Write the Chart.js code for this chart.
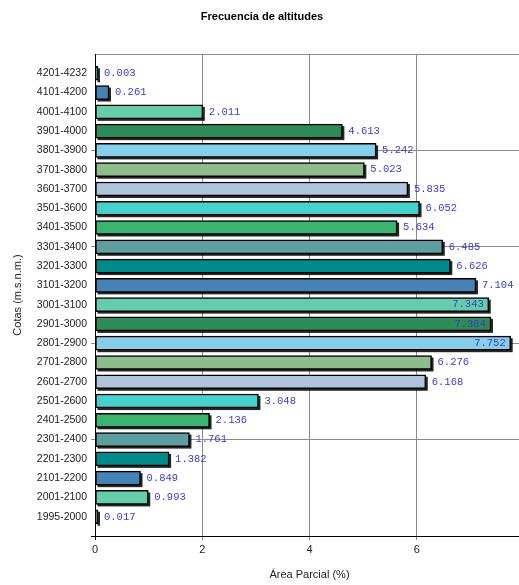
<!DOCTYPE html>
<html>
<head>
<meta charset="utf-8">
<script src="https://cdn.jsdelivr.net/npm/chart.js@4/dist/chart.umd.min.js"></script>
<style>
  html, body { margin: 0; padding: 0; background: #fff; overflow: hidden; }
  #wrap { width: 538px; height: 585px; }
</style>
</head>
<body>
<div id="wrap"><canvas id="altChart"></canvas></div>
<script>
// altitude bands, top to bottom as drawn
var cotas = [
  "4201-4232", "4101-4200", "4001-4100", "3901-4000", "3801-3900", "3701-3800",
  "3601-3700", "3501-3600", "3401-3500", "3301-3400", "3201-3300", "3101-3200",
  "3001-3100", "2901-3000", "2801-2900", "2701-2800", "2601-2700", "2501-2600",
  "2401-2500", "2301-2400", "2201-2300", "2101-2200", "2001-2100", "1995-2000"
];
var areaParcial = [
  0.003, 0.261, 2.011, 4.613, 5.242, 5.023,
  5.835, 6.052, 5.634, 6.485, 6.626, 7.104,
  7.343, 7.384, 7.752, 6.276, 6.168, 3.048,
  2.136, 1.761, 1.382, 0.849, 0.993, 0.017
];
var xTicks = [0, 2, 4, 6, 8];

// palette cycles from the bottom bar upwards
var palette = ['#2E8B57', '#66CDAA', '#4682B4', '#008B8B', '#5F9EA0',
               '#3CB371', '#48D1CC', '#B0C4DE', '#8FBC8F', '#87CEEB'];

// blank slot above and below so the axis runs one band past the bars
var labels = [''].concat(cotas, ['']);
var values = [null].concat(areaParcial, [null]);
var colors = labels.map(function (l, i) {
  var k = cotas.length - i; // index counted from the bottom bar
  return palette[((k % 10) + 10) % 10];
});

var barShadow = {
  id: 'barShadow',
  beforeDatasetsDraw: function (chart) {
    var ctx = chart.ctx;
    var meta = chart.getDatasetMeta(0);
    ctx.save();
    ctx.fillStyle = 'rgba(0,0,0,0.85)';
    meta.data.forEach(function (bar, i) {
      if (values[i] === null) return;
      var p = bar.getProps(['x', 'y', 'base', 'height'], true);
      ctx.fillRect(p.base + 2, p.y - p.height / 2 + 2, p.x - p.base, p.height);
    });
    ctx.restore();
  }
};

var valueLabels = {
  id: 'valueLabels',
  afterDatasetsDraw: function (chart) {
    var ctx = chart.ctx;
    var meta = chart.getDatasetMeta(0);
    var right = chart.chartArea.right;
    ctx.save();
    ctx.font = '10.5px "Liberation Mono", "DejaVu Sans Mono", monospace';
    ctx.fillStyle = '#3b3bc8';
    ctx.textBaseline = 'middle';
    meta.data.forEach(function (bar, i) {
      if (values[i] === null) return;
      var txt = values[i].toFixed(3);
      var w = ctx.measureText(txt).width;
      if (bar.x + 6 + w > right) {
        ctx.textAlign = 'right';
        ctx.fillText(txt, bar.x - 5, bar.y);
      } else {
        ctx.textAlign = 'left';
        ctx.fillText(txt, bar.x + 6, bar.y);
      }
    });
    ctx.restore();
  }
};

var ctx = document.getElementById('altChart').getContext('2d');
var altChart = new Chart(ctx, {
  type: 'bar',
  data: {
    labels: labels,
    datasets: [{
      label: 'Área Parcial',
      data: values,
      backgroundColor: colors,
      borderColor: '#000',
      borderWidth: 1.5,
      borderSkipped: false,
      barThickness: 14,
      minBarLength: 3
    }]
  },
  options: {
    indexAxis: 'y',
    responsive: true,
    maintainAspectRatio: false,
    animation: false,
    layout: { padding: { left: 0, right: 14, top: 0, bottom: 0 } },
    plugins: {
      legend: { display: false },
      tooltip: { enabled: false },
      title: {
        display: true,
        text: 'Frecuencia de altitudes',
        color: '#000',
        font: { family: '"Liberation Sans", Arial, sans-serif', size: 11, weight: 'bold' },
        padding: { top: 10, bottom: 30.8 }
      }
    },
    scales: {
      x: {
        min: 0,
        max: 8,
        afterFit: function (scale) { scale.height = 49; },
        afterBuildTicks: function (scale) {
          scale.ticks = xTicks.map(function (v) { return { value: v }; });
        },
        ticks: {
          color: '#222',
          padding: 3,
          font: { family: '"Liberation Sans", Arial, sans-serif', size: 11 }
        },
        grid: {
          color: function (c) { return c.tick && c.tick.value === 0 ? 'rgba(0,0,0,0)' : '#8a8a8a'; },
          tickColor: function (c) { return c.tick && c.tick.value === 0 ? '#000' : '#8a8a8a'; },
          tickLength: 4,
          lineWidth: 1
        },
        border: { color: '#000', width: 1 },
        title: {
          display: true,
          text: 'Área Parcial (%)',
          color: '#222',
          font: { family: '"Liberation Sans", Arial, sans-serif', size: 11 },
          padding: { top: 0, bottom: 3.4 }
        }
      },
      y: {
        offset: false,
        afterFit: function (scale) { scale.width = 95; },
        ticks: {
          autoSkip: false,
          color: '#222',
          padding: 4,
          font: { family: '"Liberation Sans", Arial, sans-serif', size: 10.5 }
        },
        grid: {
          offset: false,
          color: function (c) {
            return (c.index % 5 === 0 && c.index < labels.length - 1) ? '#8a8a8a' : 'rgba(0,0,0,0)';
          },
          tickColor: function (c) {
            if (c.index === labels.length - 1) return '#000';
            return (c.index % 5 === 0 && c.index > 0) ? '#8a8a8a' : 'rgba(0,0,0,0)';
          },
          tickLength: 4,
          lineWidth: 1
        },
        border: { color: '#000', width: 1 },
        title: {
          display: true,
          text: 'Cotas (m.s.n.m.)',
          color: '#222',
          font: { family: '"Liberation Sans", Arial, sans-serif', size: 11 },
          padding: { top: 11.4, bottom: 0 }
        }
      }
    }
  },
  plugins: [barShadow, valueLabels]
});
</script>
</body>
</html>
